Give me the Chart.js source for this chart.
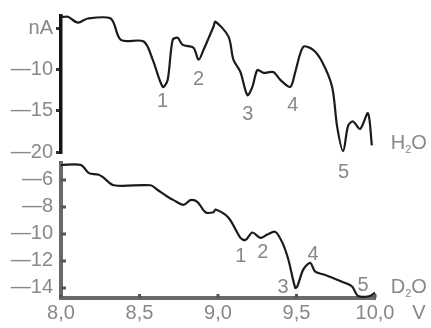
<!DOCTYPE html>
<html>
<head>
<meta charset="utf-8">
<script src="https://cdn.jsdelivr.net/npm/chart.js@4.4.0/dist/chart.umd.min.js"></script>
<style>
  html, body { margin: 0; padding: 0; background: #fff; }
  #wrap { position: relative; width: 431px; height: 328px; }
  #wrap canvas { position: absolute; left: 0; top: 0; }
</style>
</head>
<body>
<div id="wrap">
  <canvas id="chart-h2o" width="431" height="328"></canvas>
  <canvas id="chart-d2o" width="431" height="328"></canvas>
</div>
<script>
// voltage axis (V) shared by both panels
const xTicks = [8.0, 8.5, 9.0, 9.5, 10.0];

// upper panel, H2O (nA)
const voltsH2O = [8.00, 8.013, 8.044, 8.108, 8.171, 8.317, 8.381, 8.527, 8.584, 8.648, 8.679, 8.711, 8.743, 8.775,
  8.844, 8.876, 8.908, 8.971, 8.984, 9.067, 9.098, 9.143, 9.187, 9.219, 9.251, 9.289, 9.352, 9.397, 9.46, 9.492,
  9.543, 9.606, 9.663, 9.727, 9.759, 9.797, 9.829, 9.86, 9.905, 9.955, 9.98];
const currentH2O = [-3.5, -3.6, -3.6, -4.3, -3.8, -3.8, -6.4, -6.6, -8.8, -12.1, -11.3, -6.4, -6.15, -7.0,
  -7.35, -8.8, -7.6, -4.8, -4.2, -6.0, -8.8, -10.3, -13.1, -12.1, -10.05, -10.4, -10.3, -11.25, -12.1, -10.3,
  -7.25, -7.6, -9.05, -12.1, -16.95, -19.9, -16.8, -16.3, -17.2, -15.3, -19.2];
const yTicksH2O = [-20, -17.5, -15, -12.5, -10, -7.5, -5];

// lower panel, D2O
const voltsD2O = [8.00, 8.127, 8.178, 8.235, 8.267, 8.337, 8.571, 8.616, 8.679, 8.717, 8.781, 8.825, 8.87, 8.92,
  8.971, 8.984, 9.067, 9.143, 9.175, 9.219, 9.27, 9.314, 9.365, 9.41, 9.448, 9.492, 9.505, 9.543, 9.587, 9.619,
  9.683, 9.79, 9.854, 9.892, 9.968, 10.0];
const currentD2O = [-4.9, -4.9, -5.5, -5.6, -5.8, -6.4, -6.4, -6.75, -7.25, -7.5, -7.85, -7.5, -7.65, -8.4,
  -8.4, -8.2, -8.8, -10.3, -10.45, -9.9, -10.3, -10.05, -9.85, -10.65, -11.9, -14.0, -13.9, -12.65, -12.15, -12.8,
  -13.05, -13.55, -13.9, -14.6, -14.6, -14.35];
const yTicksD2O = [-14, -12, -10, -8, -6];

// peak numbers
const peakNames = ['1', '2', '3', '4', '5'];
const peakH2OX = [8.647, 8.876, 9.19, 9.476, 9.80];
const peakH2OY = [-13.9, -11.25, -15.5, -14.3, -22.5];
const peakD2OX = [9.146, 9.286, 9.414, 9.605, 9.924];
const peakD2OY = [-11.7, -11.4, -14.0, -11.55, -13.8];

const GREY = '#888';
const FONT = '"Liberation Sans", Arial, sans-serif';
const minus = v => (v < 0 ? '\u2014' : '') + Math.abs(v);

// draws the numbers and the solvent name
const labelsPlugin = {
  id: 'peakLabels',
  afterDatasetsDraw(chart, args, opts) {
    const { ctx, scales: { x, y } } = chart;
    ctx.save();
    ctx.fillStyle = GREY;
    ctx.font = '20px ' + FONT;
    ctx.textAlign = 'center';
    ctx.textBaseline = 'middle';
    opts.xs.forEach((v, i) => {
      ctx.fillText(peakNames[i], x.getPixelForValue(v), y.getPixelForValue(opts.ys[i]));
    });
    if (opts.unit) {
      ctx.fillText(opts.unit, x.getPixelForValue(opts.unitX), chart.chartArea.bottom + 15);
    }
    // H2O / D2O with subscript 2
    let px = x.getPixelForValue(opts.nameX);
    const py = y.getPixelForValue(opts.nameY);
    ctx.textAlign = 'left';
    ctx.fillText(opts.name[0], px, py);
    px += ctx.measureText(opts.name[0]).width;
    ctx.font = '11px ' + FONT;
    ctx.fillText('2', px, py + 6);
    px += ctx.measureText('2').width;
    ctx.font = '20px ' + FONT;
    ctx.fillText('O', px, py);
    ctx.restore();
  }
};

// small tick marks pointing into the plot (lower panel)
const innerTicks = {
  id: 'innerTicks',
  afterDraw(chart) {
    const { ctx, chartArea, scales: { x, y } } = chart;
    ctx.save();
    ctx.strokeStyle = '#555';
    ctx.lineWidth = 3;
    ctx.beginPath();
    yTicksD2O.forEach(v => {
      const py = y.getPixelForValue(v);
      ctx.moveTo(chartArea.left, py);
      ctx.lineTo(chartArea.left + 5, py);
    });
    xTicks.forEach(v => {
      const px = x.getPixelForValue(v);
      ctx.moveTo(px, chartArea.bottom);
      ctx.lineTo(px, chartArea.bottom - 4);
    });
    ctx.stroke();
    ctx.restore();
  }
};

const lineStyle = {
  borderColor: '#1b1b1b',
  borderWidth: 2.2,
  pointRadius: 0,
  tension: 0.3,
  fill: false,
  clip: false
};

new Chart(document.getElementById('chart-h2o'), {
  type: 'line',
  data: {
    datasets: [Object.assign({
      data: voltsH2O.map((v, i) => ({ x: v, y: currentH2O[i] }))
    }, lineStyle)]
  },
  options: {
    responsive: false,
    animation: false,
    layout: { padding: { top: 16, right: 56, bottom: 176, left: 0 } },
    plugins: {
      legend: { display: false },
      tooltip: { enabled: false },
      peakLabels: { xs: peakH2OX, ys: peakH2OY, name: 'HO', nameX: 10.1, nameY: -19.0 }
    },
    scales: {
      x: { type: 'linear', min: 8.0, max: 10.0, display: false },
      y: {
        min: -20, max: -3.5,
        afterFit: s => { s.width = 61; },
        afterBuildTicks: s => { s.ticks = yTicksH2O.map(v => ({ value: v })); },
        border: { display: true, color: '#151515', width: 3.5 },
        grid: { drawOnChartArea: false, color: '#333', lineWidth: 3, tickLength: 5 },
        ticks: {
          color: GREY, padding: 3,
          font: { family: FONT, size: 20 },
          callback: v => v === -5 ? 'nA' : (v % 5 === 0 ? minus(v) : '')
        }
      }
    }
  },
  plugins: [labelsPlugin]
});

new Chart(document.getElementById('chart-d2o'), {
  type: 'line',
  data: {
    datasets: [Object.assign({
      data: voltsD2O.map((v, i) => ({ x: v, y: currentD2O[i] }))
    }, lineStyle)]
  },
  options: {
    responsive: false,
    animation: false,
    layout: { padding: { top: 163, right: 56, bottom: 0, left: 0 } },
    plugins: {
      legend: { display: false },
      tooltip: { enabled: false },
      peakLabels: { xs: peakD2OX, ys: peakD2OY, name: 'DO', nameX: 10.1, nameY: -14.0, unit: 'V', unitX: 10.28 }
    },
    scales: {
      x: {
        type: 'linear', min: 8.0, max: 10.0,
        afterFit: s => { s.height = 30; },
        afterBuildTicks: s => { s.ticks = xTicks.map(v => ({ value: v })); },
        border: { display: true, color: '#6a6a6a', width: 4 },
        grid: { display: false, drawTicks: false, tickLength: 0 },
        ticks: {
          color: GREY, padding: 3, maxRotation: 0,
          font: { family: FONT, size: 20 },
          callback: v => v.toFixed(1).replace('.', ',')
        }
      },
      y: {
        min: -14.75, max: -4.75,
        afterFit: s => { s.width = 61; },
        afterBuildTicks: s => { s.ticks = yTicksD2O.map(v => ({ value: v })); },
        border: { display: true, color: '#6a6a6a', width: 4 },
        grid: { display: false, drawTicks: false, tickLength: 0 },
        ticks: {
          color: GREY, padding: 8,
          font: { family: FONT, size: 20 },
          callback: v => minus(v)
        }
      }
    }
  },
  plugins: [labelsPlugin, innerTicks]
});
</script>
</body>
</html>
